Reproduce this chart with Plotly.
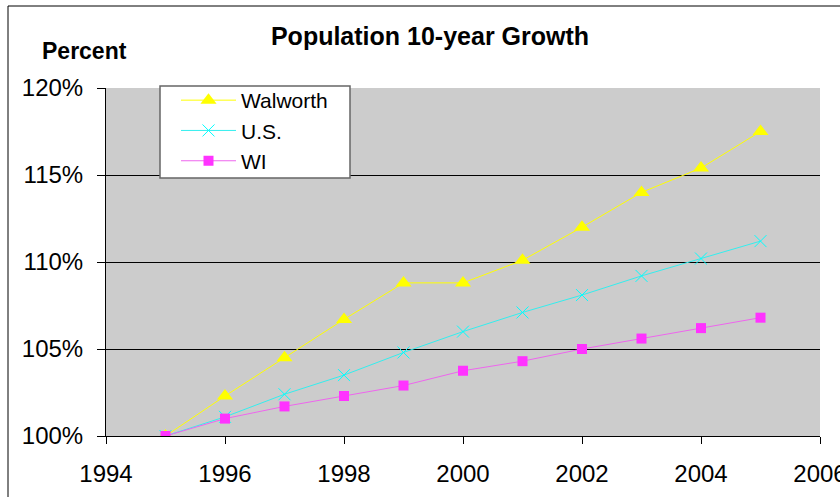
import plotly.graph_objects as go

# Population index (base year 1995 = 100%)
years = [1995, 1996, 1997, 1998, 1999, 2000, 2001, 2002, 2003, 2004, 2005]
walworth = [100.0, 102.3, 104.5, 106.7, 108.8, 108.8, 110.1, 112.0, 114.0, 115.4, 117.5]
us = [100.0, 101.1, 102.4, 103.5, 104.8, 106.0, 107.1, 108.1, 109.2, 110.2, 111.2]
wi = [100.0, 101.0, 101.7, 102.3, 102.9, 103.75, 104.3, 105.0, 105.6, 106.2, 106.8]

series_names = ["Walworth", "U.S.", "WI"]
title_text = "Population 10-year Growth"
y_title_text = "Percent"

W, H = 840, 497
L, R, T, B = 106, 20, 88, 61
PW, PH = W - L - R, H - T - B


def px_x(x):
    return (x - L) / PW


def px_y(y):
    return (H - B - y) / PH


FONT = "Liberation Sans, Arial, sans-serif"

fig = go.Figure()
fig.add_trace(go.Scatter(
    x=years, y=walworth, name=series_names[0], mode="lines+markers",
    line=dict(color="#FFFF00", width=1),
    marker=dict(symbol="triangle-up", size=14, color="#FFFF00"),
))
fig.add_trace(go.Scatter(
    x=years, y=us, name=series_names[1], mode="lines+markers",
    line=dict(color="#33EEEE", width=1),
    marker=dict(symbol="x-thin", size=12, color="#00FFFF",
                line=dict(color="#00FFFF", width=1)),
))
fig.add_trace(go.Scatter(
    x=years, y=wi, name=series_names[2], mode="lines+markers",
    line=dict(color="#EE66EE", width=1),
    marker=dict(symbol="square", size=10, color="#FF33FF"),
))

fig.update_layout(
    width=W, height=H,
    margin=dict(l=L, r=R, t=T, b=B, pad=0, autoexpand=False),
    paper_bgcolor="white",
    plot_bgcolor="#CCCCCC",
    font=dict(family=FONT, color="black"),
    showlegend=True,
    title=dict(
        text="<b>" + title_text + "</b>",
        font=dict(size=25, family=FONT, color="black"),
        x=430 / W, xref="container", xanchor="center",
        y=1 - 36 / H, yref="container", yanchor="middle",
    ),
    # legend entries sit inside a separately drawn white box
    legend=dict(
        x=px_x(176), y=px_y(80), xanchor="left", yanchor="top",
        bgcolor="rgba(0,0,0,0)", borderwidth=0,
        font=dict(size=21, family=FONT, color="black"),
        itemwidth=55, tracegroupgap=0,
    ),
    xaxis=dict(
        range=[1994, 2006], dtick=2, tick0=1994,
        showgrid=False, zeroline=False, automargin=False,
        showline=True, linecolor="black", linewidth=1,
        ticks="outside", ticklen=7, tickcolor="black", tickwidth=1,
        tickfont=dict(size=24, family=FONT, color="black"),
        ticklabeloverflow="allow", ticklabelstandoff=9,
    ),
    yaxis=dict(
        range=[100, 120], dtick=5, tick0=100, ticksuffix="%",
        showgrid=True, gridcolor="black", gridwidth=1,
        zeroline=False, automargin=False,
        showline=True, linecolor="black", linewidth=1,
        ticks="outside", ticklen=8, tickcolor="black", tickwidth=1,
        tickfont=dict(size=24, family=FONT, color="black"),
        ticklabelstandoff=9,
    ),
    annotations=[dict(
        text="<b>" + y_title_text + "</b>",
        xref="paper", yref="paper", x=px_x(84), y=px_y(51),
        xanchor="center", yanchor="middle", showarrow=False,
        font=dict(size=23, family=FONT, color="black"),
    )],
    shapes=[
        dict(
            type="rect", xref="paper", yref="paper",
            x0=px_x(8), x1=px_x(900), y0=px_y(560), y1=px_y(6),
            line=dict(color="black", width=1), fillcolor="rgba(0,0,0,0)",
            layer="below",
        ),
        dict(
            type="rect", xref="paper", yref="paper",
            x0=px_x(160), x1=px_x(350), y0=px_y(178), y1=px_y(86),
            line=dict(color="#666666", width=1.5), fillcolor="white",
            layer="above",
        ),
    ],
)

fig.write_html("out.html")
